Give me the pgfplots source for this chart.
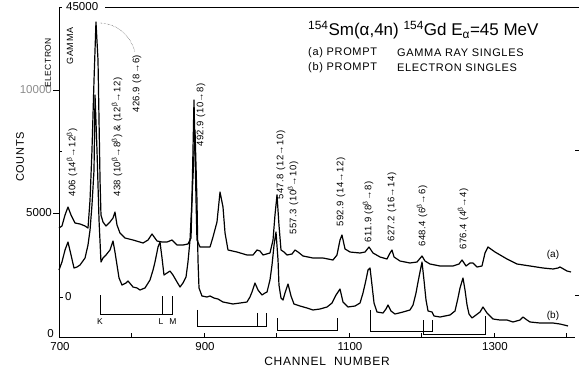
\documentclass[border=0pt]{standalone}
\usepackage{pgfplots}
\pgfplotsset{compat=1.18}
\usepackage{fontspec}
\setmainfont{Liberation Sans}
\newfontfamily\spaced[LetterSpace=6]{Liberation Sans}
\begin{document}
\begin{tikzpicture}
\begin{axis}[
  scale only axis, width=516pt, height=330pt,
  xmin=700, xmax=1411.7, ymin=0, ymax=13306,
  axis line style={draw=none},
  xtick={700,800,...,1400}, xticklabels=\empty, xtick pos=bottom,
  tick align=inside, major tick length=4pt, tick style={black, thin},
  ytick=\empty, clip=false,
]
% (a) prompt gamma-ray singles
\addplot[black, line width=1.2pt, mark=none, line join=round] coordinates {
(700,4395) (704.1,4476) (708.3,4919) (712.4,5241) (716.6,4919) (722.1,4596)
(729.0,4556) (735.9,4476) (740.0,4395) (742.8,5524) (745.5,7540) (748.3,10362)
(751.0,12701) (753.8,11169) (755.2,8749) (756.6,6330) (757.9,4919) (760.7,4637)
(764.8,4476) (770.3,4637) (774.5,4798) (777.2,5040) (780.0,4516) (784.1,4193)
(791.0,3992) (802.1,3911) (815.9,3790) (822.8,3911) (828.3,4153) (835.2,3871)
(842.1,3830) (849.0,3830) (855.9,3911) (862.8,3709) (871.0,3709) (877.9,3750)
(882.1,3992) (883.4,5524) (884.8,7540) (886.2,9556) (887.6,7540) (889.0,5524)
(890.3,3911) (894.5,3629) (901.4,3629) (908.3,3629) (912.4,4032) (917.9,4637)
(922.1,5846) (926.2,5241) (929.0,4193) (933.1,3508) (945.5,3427) (959.3,3306)
(967.6,3306) (973.1,3508) (977.2,3468) (981.4,3306) (991.0,3387) (995.2,3911)
(997.9,4919) (1000.7,5725) (1003.4,4516) (1006.2,3508) (1010.3,3427) (1014.5,3306)
(1021.4,3347) (1025.5,3508) (1029.7,3427) (1036.6,3266) (1050.3,3185) (1064.1,3185)
(1077.9,3105) (1083.4,3306) (1087.6,3911) (1090.3,4113) (1094.5,3548) (1101.4,3427)
(1115.2,3387) (1122.1,3427) (1127.6,3629) (1133.1,3387) (1142.8,3226) (1152.4,3145)
(1156.6,3387) (1159.3,3508) (1162.1,3226) (1170.3,3064) (1184.1,2984) (1193.8,3024)
(1200.7,3266) (1204.8,3064) (1211.7,2943) (1225.5,2863) (1243.4,2863) (1251.7,2943)
(1255.9,3105) (1261.4,2863) (1266.9,2984) (1271.0,2984) (1276.6,2822) (1283.4,2863)
(1287.6,3387) (1291.7,3629) (1301.4,3427) (1317.9,3145) (1331.7,2943) (1349.7,2863)
(1367.6,2782) (1381.4,2742) (1388.3,2782) (1391.0,2822) (1400.7,2661) (1406.2,2621)
};
% (b) prompt electron singles
\addplot[black, line width=1.2pt, mark=none, line join=round] coordinates {
(700,2701) (704.1,3024) (708.3,3508) (712.4,3830) (716.6,3306) (720.7,2782)
(724.8,2822) (729.0,2903) (735.9,3185) (740.0,3709) (742.8,4314) (745.5,5322)
(748.3,6733) (749.7,9757) (752.4,7540) (755.2,4717) (757.9,3024) (760.7,3185)
(764.8,3306) (770.3,3508) (774.5,3871) (777.2,3427) (780.0,2903) (782.8,2379)
(786.9,2097) (792.4,2177) (795.2,2258) (802.1,2016) (807.6,1976) (811.7,1895)
(818.6,1976) (825.5,2298) (829.7,2701) (832.4,3024) (836.6,3629) (839.3,3830)
(842.1,3185) (844.8,2500) (849.0,2580) (853.1,2661) (857.2,2500) (862.8,2218)
(866.9,2016) (871.0,2177) (875.2,2419) (877.9,3024) (880.7,3911) (883.4,5524)
(887.6,8346) (890.3,5524) (891.7,3105) (893.1,1976) (897.2,1653) (904.1,1613)
(908.3,1653) (913.8,1572) (919.3,1532) (926.2,1411) (933.1,1371) (940.0,1331)
(949.7,1371) (959.3,1411) (963.4,1613) (966.2,1814) (970.3,2177) (974.5,1895)
(980.0,1693) (984.1,1774) (986.9,1814) (991.0,2298) (993.8,2903) (996.6,3709)
(999.3,4234) (1002.1,3105) (1003.4,2097) (1006.2,1572) (1009.0,1492) (1011.7,1774)
(1015.9,2137) (1020.0,1653) (1024.1,1331) (1032.4,1250) (1042.1,1169) (1050.3,1089)
(1060.0,1129) (1069.7,1210) (1076.6,1371) (1082.1,1693) (1087.6,1935) (1091.7,1411)
(1098.6,1210) (1108.3,1250) (1115.2,1371) (1119.3,1774) (1123.4,2298) (1126.2,2701)
(1129.0,2782) (1131.7,2097) (1134.5,1371) (1138.6,1008) (1146.9,968) (1151.0,1129)
(1153.8,1290) (1157.9,1048) (1163.4,927) (1174.5,1008) (1184.1,1089) (1188.3,1290)
(1192.4,1774) (1195.2,2218) (1197.9,2621) (1200.7,3024) (1203.4,2298) (1206.2,1492)
(1209.0,1048) (1214.5,1008) (1217.2,847) (1225.5,806) (1239.3,887) (1246.2,1048)
(1250.3,1572) (1253.1,1976) (1257.2,2379) (1260.0,1895) (1262.8,1290) (1265.5,927)
(1269.7,766) (1275.2,887) (1280.7,1008) (1284.8,1210) (1290.3,968) (1298.6,726)
(1308.3,685) (1317.9,685) (1326.2,605) (1335.9,685) (1340.0,806) (1345.5,685)
(1349.7,605) (1363.4,564) (1381.4,564) (1391.0,524) (1402.1,444)
};
% K, L, M conversion-line markers
\addplot[black, thin] coordinates {(756.6,1693) (756.6,927) (855.9,927) (855.9,1653)};
\addplot[black, thin] coordinates {(842.1,1653) (842.1,927)};
\addplot[black, thin] coordinates {(890.3,1089) (890.3,444) (985.5,444) (985.5,968)};
\addplot[black, thin] coordinates {(973.1,968) (973.1,444)};
\addplot[black, thin] coordinates {(1000.7,766) (1000.7,282) (1083.4,282) (1083.4,766)};
\addplot[black, thin] coordinates {(1129.0,1089) (1129.0,242) (1214.5,242) (1214.5,685)};
\addplot[black, thin] coordinates {(1202.1,685) (1202.1,121)};
\addplot[black, thin] coordinates {(1202.1,121) (1287.6,121) (1287.6,847)};
\end{axis}
% frame lines
\draw[black, thin] (0,0) -- (516pt,0);
\draw[black, thin] (0,0) -- (0,330pt) -- (3pt,330pt);
\draw[black, thin] (46pt,330pt) -- (520pt,330pt);
\draw[black, thin] (-6pt,124pt) -- (0,124pt);
\draw[black, thin] (-6pt,247pt) -- (0,247pt);
\draw[black, thin] (0,186pt) -- (3pt,186pt);
\draw[black, thin] (0,40pt) -- (4pt,40pt);
\draw[black, thin] (516pt,187pt) -- (520pt,187pt);
\draw[black, thin] (516pt,42pt) -- (520pt,42pt);
% tick labels
\begin{scope}[every node/.style={inner sep=0pt, font=\fontsize{11.5}{13}\selectfont}]
\node[anchor=west] at (7pt,330pt) {45000};
\node[anchor=east, text=black!45] at (-7pt,247pt) {10000};
\node[anchor=east] at (-7pt,124pt) {5000};
\node[anchor=west] at (6pt,40pt) {0};
\node[anchor=east] at (-5pt,3pt) {0};
\node at (1pt,-10pt) {700};
\node at (146pt,-10pt) {900};
\node at (291pt,-10pt) {1100};
\node at (436pt,-10pt) {1300};
\end{scope}
% axis titles
\node[rotate=90, font=\fontsize{11}{13}\selectfont\spaced] at (-39pt,180pt) {COUNTS};
\node[rotate=90, font=\fontsize{8.5}{10}\selectfont\spaced] at (-11pt,274pt) {ELECTRON};
\node[rotate=90, font=\fontsize{9}{11}\selectfont\spaced] at (11pt,291pt) {GAMMA};
\node[font=\fontsize{12}{14}\selectfont\spaced] at (268pt,-24pt) {CHANNEL\ \ NUMBER};
% title block
\node[anchor=west, inner sep=0pt, font=\fontsize{17}{19}\selectfont] at (249pt,307pt)
  {\textsuperscript{154}Sm(α,4n) \textsuperscript{154}Gd E\textsubscript{α}=45 MeV};
\begin{scope}[every node/.style={anchor=west, inner sep=0pt, font=\fontsize{11}{13}\selectfont\spaced}]
\node at (249pt,284pt) {(a) PROMPT};
\node at (338pt,284pt) {GAMMA RAY SINGLES};
\node at (249pt,269pt) {(b) PROMPT};
\node at (338pt,269pt) {ELECTRON SINGLES};
\end{scope}
\node[font=\fontsize{10}{12}\selectfont] at (494pt,82pt) {(a)};
\node[font=\fontsize{10}{12}\selectfont] at (494pt,21pt) {(b)};
% K L M letters
\begin{scope}[every node/.style={inner sep=0pt, font=\fontsize{8.5}{10}\selectfont}]
\node at (41pt,15pt) {K};
\node at (102pt,15pt) {L};
\node at (114pt,15pt) {M};
\end{scope}
% peak labels
\begin{scope}[every node/.style={rotate=90, anchor=west, inner sep=0pt, font=\fontsize{9.5}{11}\selectfont\spaced}]
\node at (13pt,140pt) {406 (14\textsuperscript{β}→12\textsuperscript{β})};
\node at (58pt,140pt) {438 (10\textsuperscript{β}→8\textsuperscript{β}) \& (12\textsuperscript{β}→12)};
\node at (78pt,224pt) {426.9 (8→6)};
\node at (142pt,190pt) {492.9 (10→8)};
\node at (222pt,137pt) {547.8 (12→10)};
\node at (234pt,102pt) {557.3 (10\textsuperscript{β}→10)};
\node at (282pt,110pt) {592.9 (14→12)};
\node at (309pt,94pt) {611.9 (8\textsuperscript{β}→8)};
\node at (333pt,95pt) {627.2 (16→14)};
\node at (363pt,90pt) {648.4 (6\textsuperscript{β}→6)};
\node at (404pt,87pt) {676.4 (4\textsuperscript{β}→4)};
\end{scope}
\draw[densely dotted, thin] (41pt,314pt) .. controls (60pt,313pt) and (72pt,300pt) .. (76pt,285pt);
\pgfresetboundingbox
\path[use as bounding box] (-59pt,-36pt) rectangle (520pt,337pt);
\end{tikzpicture}
\end{document}
